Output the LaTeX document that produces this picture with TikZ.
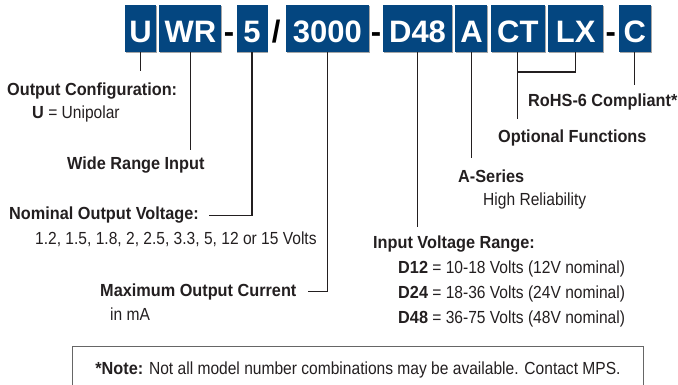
\documentclass[tikz,border=0pt]{standalone}
\usepackage{fontspec}
\setmainfont{Liberation Sans}[FakeStretch=0.89, BoldFeatures={FakeStretch=0.93}]
\newfontfamily\boxfont{Liberation Sans}
\usetikzlibrary{positioning,shadows}
\definecolor{mpsblue}{RGB}{4,70,128}
\definecolor{inkgray}{RGB}{35,31,32}
\begin{document}
\begin{tikzpicture}[x=1pt, y=-1pt, font=\fontsize{17.5}{20}\selectfont, text=inkgray]
    \tikzstyle{pnbox} = [rectangle, fill=mpsblue, text=white, inner sep=0pt, minimum height=47pt, text height=29pt, text depth=0pt, font=\boxfont\bfseries\fontsize{31}{31}\selectfont, drop shadow={shadow xshift=0.8pt, shadow yshift=-1.2pt, fill=black!35, opacity=1}]
    \tikzstyle{sep} = [inner sep=0pt, text height=29pt, text depth=0pt, text=black, font=\boxfont\bfseries\fontsize{31}{31}\selectfont]
    \tikzstyle{title} = [anchor=base west, inner sep=0pt, font=\fontsize{17.5}{20}\selectfont\bfseries]
    \tikzstyle{detail} = [anchor=base west, inner sep=0pt]
    \tikzstyle{leader} = [draw=inkgray, line width=1.1pt]

    \useasboundingbox (0,0) rectangle (678,385);

    \node [pnbox, minimum width=31pt] (u) at (140.5,28.5) {U};
    \node [pnbox, minimum width=62pt, right=3pt of u] (wr) {WR};
    \node [sep, right=2pt of wr] (dash1) {-};
    \node [pnbox, minimum width=31pt, right=2pt of dash1] (n5) {5};
    \node [sep, right=4pt of n5] (slash) {/};
    \node [pnbox, minimum width=83pt, right=5pt of slash] (n3000) {3000};
    \node [sep, right=1.5pt of n3000] (dash2) {-};
    \node [pnbox, minimum width=69pt, right=1.5pt of dash2] (d48) {D48};
    \node [pnbox, minimum width=32pt, right=3pt of d48] (a) {A};
    \node [pnbox, minimum width=54pt, right=3pt of a] (ct) {CT};
    \node [pnbox, minimum width=55pt, right=3pt of ct] (lx) {LX};
    \node [sep, right=2pt of lx] (dash3) {-};
    \node [pnbox, minimum width=32pt, right=2.5pt of dash3] (c) {C};

    \node [title] (cfg) at (7,96) {Output Configuration:};
    \node [detail] (cfgu) at (32,119) {\textbf{U} = Unipolar};
    \node [title] (wri) at (67,170) {Wide Range Input};
    \node [title] (nomv) at (9,220) {Nominal Output Voltage:};
    \node [detail] (nomvl) at (35,244) {1.2, 1.5, 1.8, 2, 2.5, 3.3, 5, 12 or 15 Volts};
    \node [title] (maxc) at (100,296) {Maximum Output Current};
    \node [detail] (maxcu) at (110,320) {in mA};
    \node [title] (rohs) at (528,107) {RoHS-6 Compliant*};
    \node [title] (optf) at (498,143) {Optional Functions};
    \node [title] (aser) at (458,183) {A-Series};
    \node [detail] (aserd) at (483,206) {High Reliability};
    \node [title] (ivr) at (373,248) {Input Voltage Range:};
    \node [detail] (d12) at (398,273) {\textbf{D12} = 10-18 Volts (12V nominal)};
    \node [detail] (d24) at (398,298) {\textbf{D24} = 18-36 Volts (24V nominal)};
    \node [detail] (d48r) at (398,323) {\textbf{D48} = 36-75 Volts (48V nominal)};

    \node [draw=black!60, line width=1pt, minimum width=571pt, minimum height=46pt, anchor=north west, inner sep=0pt] (note) at (72,346) {\textbf{*Note:} Not all model number combinations may be available. Contact MPS.};

    \coordinate (ctlx) at (ct.south |- 0,72);
    \draw [leader, shorten >=12pt] (u.south) -- (u.south |- cfg.north);
    \draw [leader, shorten >=7pt] (wr.south) -- (wr.south |- wri.north);
    \draw [leader, shorten >=10pt] (n5.south) |- (nomv.east);
    \draw [leader, shorten >=11pt] (n3000.south) |- (maxc.east);
    \draw [leader, shorten >=8pt] (d48.south) -- (d48.south |- ivr.north);
    \draw [leader, shorten >=12pt] (a.south) -- (a.south |- aser.north);
    \draw [leader, shorten >=11pt] (ct.south) -- (ct.south |- optf.north);
    \draw [leader] (lx.south) |- (ctlx);
    \draw [leader, shorten >=9pt] (c.south) -- (c.south |- rohs.north);
\end{tikzpicture}
\end{document}
